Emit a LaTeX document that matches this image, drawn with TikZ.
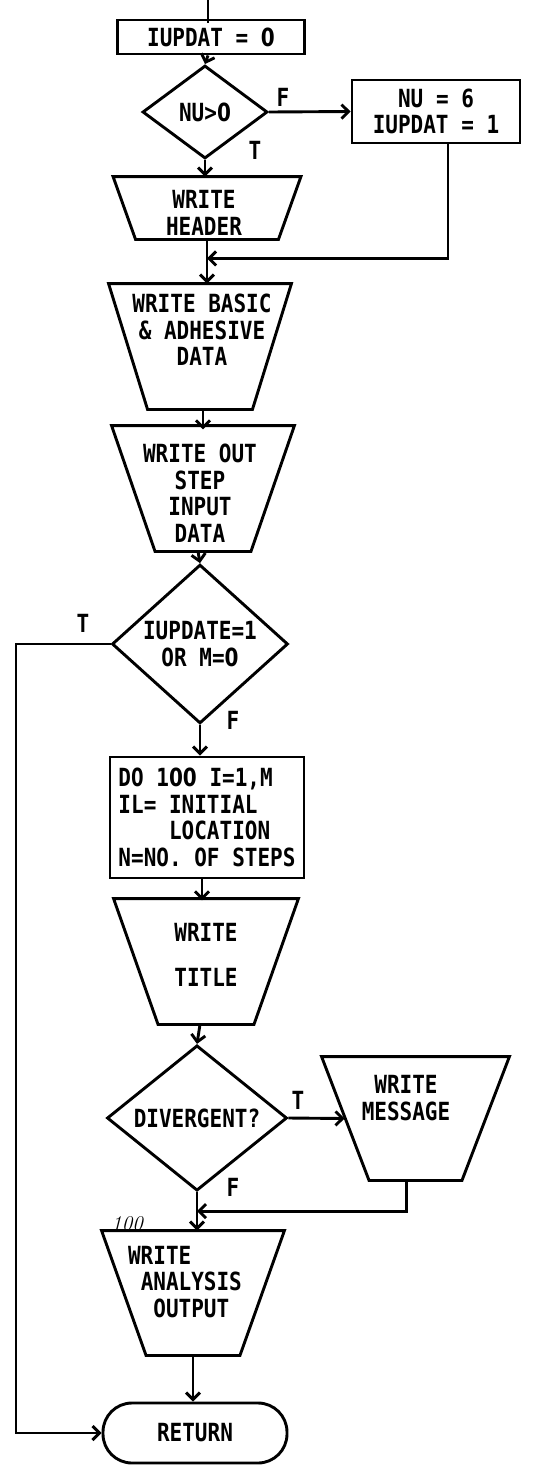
\documentclass[tikz,border=0pt]{standalone}
\usepackage{fontspec}
\newfontfamily\lf{DejaVu Sans Mono Bold}[FakeStretch=0.84]
\newfontfamily\zf{DejaVu Sans Bold}[FakeStretch=0.80]
\newcommand\Z{{\zf 0}}
\usetikzlibrary{shapes.geometric,arrows.meta}
\newcommand\trapz[2]{\draw[line join=miter] (#1.north west) -- (#1.north east) -- ([xshift=-#2pt]#1.south east) -- ([xshift=#2pt]#1.south west) -- cycle;}
\begin{document}
\begin{tikzpicture}[x=1pt,y=-1pt,line width=2.9pt,
  base/.style={font={\lf\fontsize{25}{26.5}\selectfont},inner sep=0pt,align=center},
  procbox/.style={base,draw,rectangle},
  decision/.style={base,draw,diamond},
  frame/.style={base,rectangle,draw=none},
  term/.style={base,draw,rectangle,rounded corners=29pt},
  flow/.style={-{Straight Barb[length=7pt,width=14pt]}},
  note/.style={font={\fontsize{21}{21}\selectfont\itshape},inner sep=0pt}]
\useasboundingbox (0,0) rectangle (534,1465);

% nodes
\node[procbox,minimum width=187,minimum height=34] (init) at (211,37) {IUPDAT = \Z};
\node[decision,minimum width=125,minimum height=93] (nu) at (205,112) {NU>\Z};
\node[procbox,minimum width=168,minimum height=63] (set6) at (436,111.5) {NU = 6\\IUPDAT = 1};
\node[frame,minimum width=185,minimum height=60] (hdr) at (207,208) {};
\trapz{hdr}{22.5}
\node[base] (hdrt) at (204,213) {WRITE\\HEADER};
\node[frame,minimum width=180,minimum height=123] (basic) at (200,346.5) {};
\trapz{basic}{39}
\node[base] (basict) at (202,330) {WRITE BASIC\\\& ADHESIVE\\DATA};
\node[frame,minimum width=180,minimum height=123] (step) at (203,488.5) {};
\trapz{step}{43.5}
\node[base] (stept) at (200,493) {WRITE OUT\\STEP\\INPUT\\DATA};
\node[decision,minimum width=176,minimum height=135] (iup) at (200,644) {IUPDATE=1\\OR M=\Z};
\node[procbox,minimum width=194,minimum height=121,align=left] (do) at (207,817.5) {DO 1\Z\Z{} I=1,M\\IL= INITIAL\\\phantom{IL= }LOCATION\\N=NO. OF STEPS};
\node[frame,minimum width=182,minimum height=123] (title) at (206,961.5) {};
\trapz{title}{44.5}
\node[base,align=center] (titlet) at (206,955) {WRITE\\[19pt]TITLE};
\node[decision,minimum width=180,minimum height=137] (div) at (197,1118) {DIVERGENT?};
\node[frame,minimum width=185,minimum height=121] (msg) at (415.5,1118.5) {};
\trapz{msg}{47.5}
\node[base] (msgt) at (406,1098) {WRITE\\MESSAGE};
\node[frame,minimum width=180,minimum height=122] (ana) at (193,1293) {};
\trapz{ana}{44.5}
\node[base,align=left] (anat) at (185,1282) {WRITE\\\phantom{W}ANALYSIS\\\phantom{WW}OUTPUT};
\node[term,minimum width=184,minimum height=60] (ret) at (195,1433) {RETURN};

% labels
\node[base] (lf1) at (283,97) {F};
\node[base] (lt1) at (255,150) {T};
\node[base] (lt2) at (83,623) {T};
\node[base] (lf2) at (233,720) {F};
\node[base] (lt3) at (298,1100) {T};
\node[base] (lf3) at (233,1187) {F};
\node[note] (n100) at (127,1224) {100};

% connectors
\coordinate (entry) at (init.north |- 0,0);
\draw ([xshift=-3pt]entry) -- ([xshift=-3pt,yshift=-4pt]init.north);
\draw[flow] (init.south) ++(-3pt,0) -- (nu.north);
\draw[flow] (nu.east) -- (set6.west);
\draw[flow] (nu.south) -- (nu.south |- hdr.north);
\path (hdr.south) ++(0,19) coordinate (j1);
\draw[flow] (hdr.south) -- (hdr.south |- basic.north);
\draw[flow] ([xshift=12pt]set6.south) |- (j1);
\draw[flow] (basic.south) ++(3pt,0) -- ++(0,20);
\draw[flow] (step.south) ++(-5pt,0) -- (iup.north);
\coordinate (lc) at (16,0);
\draw[flow] (iup.west) -| (lc |- ret.west) -- (ret.west);
\draw[flow] (iup.south) -- (iup.south |- do.north);
\draw[flow] (do.south) ++(-5pt,0) -- ++(0,21);
\draw[flow] (title.south) ++(-6pt,0) -- (div.north);
\draw[flow] (div.east) -- ([xshift=23pt]msg.west);
\path (div.south) ++(0,19) coordinate (j2);
\draw[flow] (div.south) -- (div.south |- ana.north);
\draw[flow] ([xshift=-9pt]msg.south) |- (j2);
\draw[flow] (ana.south) -- (ana.south |- ret.north);
\end{tikzpicture}
\end{document}
